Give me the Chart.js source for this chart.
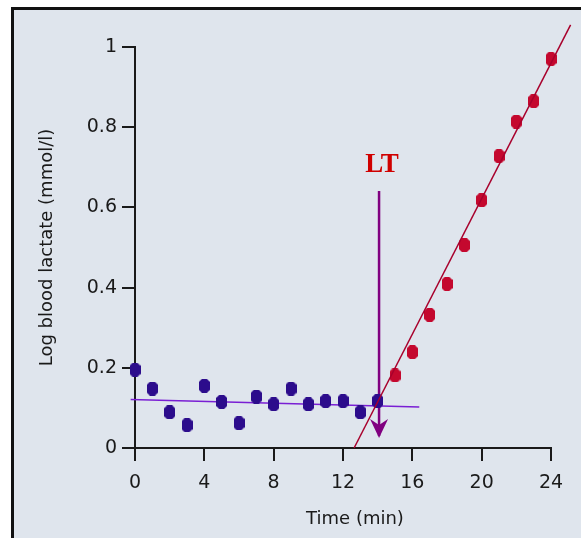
<!DOCTYPE html>
<html>
<head>
<meta charset="utf-8">
<script src="https://cdn.jsdelivr.net/npm/chart.js@4.4.1/dist/chart.umd.min.js"></script>
<style>
  html, body { margin: 0; padding: 0; background: #ffffff; width: 581px; height: 538px; overflow: hidden; }
  #frame { position: absolute; left: 11px; top: 7px; width: 600px; height: 560px;
           border-left: 3px solid #111; border-top: 3px solid #111; background: #dfe5ed; }
  #wrap { position: absolute; left: 0; top: 0; width: 581px; height: 538px; }
</style>
</head>
<body>
<div id="frame"></div>
<div id="wrap"><canvas id="c" width="581" height="538"></canvas></div>
<script>
// ---- data ----
const timeBelow = [0, 1, 2, 3, 4, 5, 6, 7, 8, 9, 10, 11, 12, 13, 14];
const lactateBelow = [0.195, 0.148, 0.089, 0.057, 0.155, 0.115, 0.062, 0.128, 0.109, 0.148, 0.109, 0.117, 0.117, 0.089, 0.117];
const timeAbove = [15, 16, 17, 18, 19, 20, 21, 22, 23, 24];
const lactateAbove = [0.181, 0.239, 0.332, 0.409, 0.506, 0.618, 0.728, 0.814, 0.865, 0.970];
const baselineFitX = [-0.25, 16.4];
const baselineFitY = [0.121, 0.102];
const riseFitX = [12.64, 25.13];
const riseFitY = [0.0, 1.055];
const ltTime = [14.08, 14.08];
const ltArrowY = [0.641, 0.03];
const ltLabel = 'LT';
const ltLabelY = 0.706;
const xTicks = [0, 4, 8, 12, 16, 20, 24];
const xTickLabels = ['0', '4', '8', '12', '16', '20', '24'];
const yTicks = [0, 0.2, 0.4, 0.6, 0.8, 1];
const yTickLabels = ['0', '0.2', '0.4', '0.6', '0.8', '1'];
const xTitle = 'Time (min)';
const yTitle = 'Log blood lactate (mmol/l)';

function pts(xs, ys) { return xs.map((x, i) => ({ x: x, y: ys[i] })); }

function marker(color) {
  const c = document.createElement('canvas');
  c.width = 11; c.height = 14;
  const g = c.getContext('2d');
  g.fillStyle = color;
  g.beginPath();
  g.moveTo(3, 0); g.lineTo(8, 0); g.lineTo(11, 3); g.lineTo(11, 11);
  g.lineTo(8, 14); g.lineTo(3, 14); g.lineTo(0, 11); g.lineTo(0, 3);
  g.closePath();
  g.fill();
  return c;
}
const blueMarker = marker('#2c0c8c');
const redMarker = marker('#c4082e');

const annot = {
  id: 'annot',
  afterDatasetsDraw(chart) {
    const ctx = chart.ctx;
    const xs = chart.scales.x, ys = chart.scales.y;
    // arrow head
    const tx = xs.getPixelForValue(ltTime[1]);
    const ty = ys.getPixelForValue(ltArrowY[1]) + 2;
    ctx.save();
    ctx.fillStyle = '#800080';
    ctx.beginPath();
    ctx.moveTo(tx, ty);
    ctx.lineTo(tx - 9, ty - 19);
    ctx.lineTo(tx, ty - 13);
    ctx.lineTo(tx + 9, ty - 19);
    ctx.closePath();
    ctx.fill();
    // LT label
    ctx.fillStyle = '#d00000';
    ctx.font = 'bold 27px "Liberation Serif"';
    ctx.textAlign = 'center';
    ctx.textBaseline = 'middle';
    ctx.fillText(ltLabel, xs.getPixelForValue(ltTime[0]) + 3, ys.getPixelForValue(ltLabelY));
    // x title
    ctx.fillStyle = '#1a1a1a';
    ctx.font = '18px "DejaVu Sans"';
    ctx.fillText(xTitle, (xs.left + xs.right) / 2 + 12, 519);
    ctx.restore();
  }
};

new Chart(document.getElementById('c'), {
  type: 'line',
  data: {
    datasets: [
      { data: pts(riseFitX, riseFitY), borderColor: '#a8002c', borderWidth: 1.5, pointRadius: 0, clip: false },
      { data: pts(timeAbove, lactateAbove), showLine: false, pointStyle: redMarker, pointRadius: 6, clip: false },
      { data: pts(timeBelow, lactateBelow), showLine: false, pointStyle: blueMarker, pointRadius: 6, clip: false },
      { data: pts(baselineFitX, baselineFitY), borderColor: '#7a1fd4', borderWidth: 1.5, pointRadius: 0, clip: false },
      { data: pts(ltTime, ltArrowY), borderColor: '#800080', borderWidth: 2.5, pointRadius: 0, clip: false }
    ]
  },
  options: {
    responsive: false,
    animation: false,
    events: [],
    layout: { padding: { left: 0, right: 30, top: 47, bottom: 0 } },
    plugins: { legend: { display: false }, tooltip: { enabled: false } },
    scales: {
      x: {
        type: 'linear', min: 0, max: 24,
        afterFit(s) { s.height = 90; },
        afterBuildTicks(s) { s.ticks = xTicks.map(v => ({ value: v })); },
        grid: { display: true, drawOnChartArea: false, drawTicks: true, tickLength: 13, color: '#1a1a1a', lineWidth: 2 },
        border: { display: true, color: '#1a1a1a', width: 2 },
        ticks: { color: '#1a1a1a', font: { family: 'DejaVu Sans', size: 19 }, padding: 11,
                 callback: (v) => xTickLabels[xTicks.indexOf(v)] },
        title: { display: false }
      },
      y: {
        type: 'linear', min: 0, max: 1,
        afterFit(s) { s.width = 135; },
        afterBuildTicks(s) { s.ticks = yTicks.map(v => ({ value: v })); },
        grid: { display: true, drawOnChartArea: false, drawTicks: true, tickLength: 13, color: '#1a1a1a', lineWidth: 2 },
        border: { display: true, color: '#1a1a1a', width: 2 },
        ticks: { color: '#1a1a1a', font: { family: 'DejaVu Sans', size: 19 }, padding: 5,
                 callback: (v) => yTickLabels[yTicks.indexOf(v)] },
        title: { display: true, text: yTitle, color: '#1a1a1a', font: { family: 'DejaVu Sans', size: 18 },
                 padding: { top: 37, bottom: 0 } }
      }
    }
  },
  plugins: [annot]
});
</script>
</body>
</html>
